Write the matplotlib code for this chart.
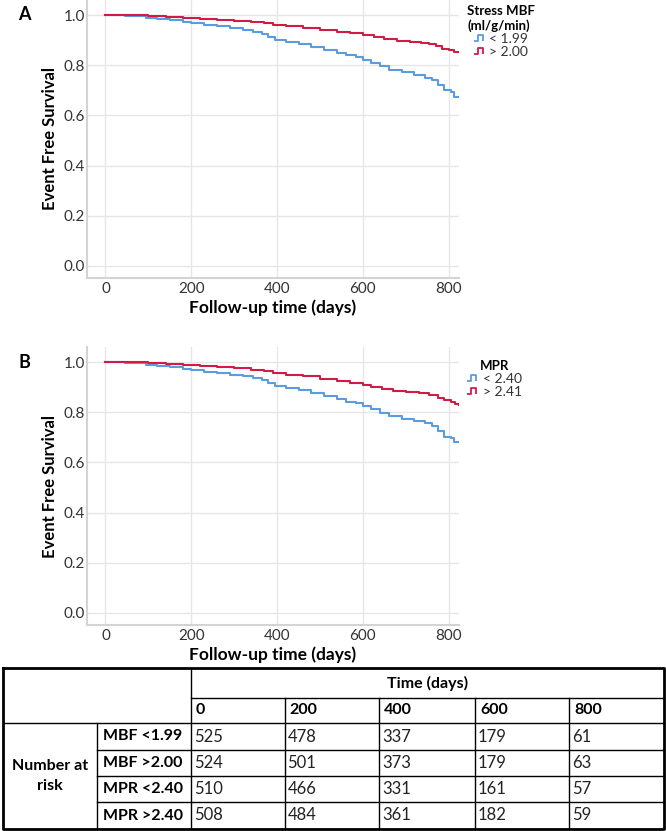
import numpy as np
import matplotlib
matplotlib.use("Agg")
import matplotlib.pyplot as plt
from matplotlib.lines import Line2D
from matplotlib.path import Path

plt.rcParams['font.family'] = ['Lato', 'DejaVu Sans']

# --- Kaplan-Meier curves (day, survival) ---
mbf_low_t = [0, 45, 70, 95, 120, 150, 180, 200, 230, 260, 290, 320, 345, 365, 380, 395, 420, 450,
             480, 510, 540, 560, 585, 600, 620, 640, 660, 690, 720, 745, 760, 775, 790, 805, 812, 824]
mbf_low_s = [1.0, 0.998, 0.995, 0.99, 0.986, 0.98, 0.972, 0.967, 0.962, 0.955, 0.948, 0.940, 0.933,
             0.925, 0.912, 0.900, 0.893, 0.885, 0.874, 0.862, 0.850, 0.840, 0.833, 0.822, 0.810, 0.795,
             0.782, 0.772, 0.760, 0.750, 0.740, 0.722, 0.700, 0.692, 0.675, 0.675]
mbf_high_t = [0, 60, 100, 140, 180, 220, 260, 300, 340, 370, 390, 420, 460, 500, 540, 570, 600, 625,
              650, 680, 710, 735, 755, 770, 785, 800, 812, 824]
mbf_high_s = [1.0, 0.999, 0.997, 0.993, 0.989, 0.985, 0.981, 0.977, 0.973, 0.968, 0.962, 0.955, 0.949,
              0.941, 0.933, 0.927, 0.921, 0.913, 0.905, 0.898, 0.893, 0.889, 0.884, 0.875, 0.866, 0.860,
              0.852, 0.852]

mpr_low_t = mbf_low_t
mpr_low_s = [1.0, 0.998, 0.995, 0.99, 0.985, 0.979, 0.972, 0.967, 0.962, 0.956, 0.950, 0.943, 0.936,
             0.928, 0.916, 0.905, 0.898, 0.889, 0.877, 0.864, 0.852, 0.842, 0.835, 0.824, 0.812, 0.797,
             0.785, 0.775, 0.765, 0.757, 0.745, 0.725, 0.703, 0.698, 0.680, 0.680]
mpr_high_t = [0, 60, 100, 140, 180, 220, 260, 300, 340, 370, 390, 420, 460, 500, 540, 570, 600, 620,
              645, 670, 700, 730, 755, 775, 790, 805, 815, 824]
mpr_high_s = [1.0, 0.999, 0.997, 0.993, 0.988, 0.984, 0.979, 0.975, 0.970, 0.965, 0.957, 0.950, 0.943,
              0.934, 0.925, 0.918, 0.910, 0.902, 0.893, 0.885, 0.880, 0.875, 0.868, 0.858, 0.848, 0.842,
              0.832, 0.830]

# --- Number at risk table ---
time_points = ['0', '200', '400', '600', '800']
row_labels = ['MBF <1.99', 'MBF >2.00', 'MPR <2.40', 'MPR >2.40']
at_risk = [[525, 478, 337, 179, 61],
           [524, 501, 373, 179, 63],
           [510, 466, 331, 161, 57],
           [508, 484, 361, 182, 59]]

BLUE = '#5b9be0'
RED = '#d01c45'
W, H = 666, 831

fig = plt.figure(figsize=(W / 100, H / 100), dpi=100)

# legend step icon
step_icon = Path([(-1.0, -0.5), (-0.4, -0.5), (-0.4, 0.5), (0.6, 0.5), (0.6, -0.5)])


def km_panel(top_px, curves, legend_title, labels, letter, leg_shift):
    ax = fig.add_axes([87 / W, 1 - (top_px + 278) / H, 372 / W, 278 / H])
    for (t, s), c in zip(curves, [BLUE, RED]):
        ax.plot(t, s, drawstyle='steps-post', color=c, lw=1.5)
    ax.set_xlim(-43, 824)
    ax.set_ylim(-0.048, 1.06)
    ax.set_xticks([0, 200, 400, 600, 800])
    ax.set_yticks([0.0, 0.2, 0.4, 0.6, 0.8, 1.0])
    ax.set_yticklabels(['0.0', '0.2', '0.4', '0.6', '0.8', '1.0'])
    ax.grid(True, color='#e6e6e6', lw=1)
    ax.set_axisbelow(True)
    for side in ['top', 'right']:
        ax.spines[side].set_visible(False)
    for side in ['left', 'bottom']:
        ax.spines[side].set_color('#d4d4d4')
        ax.spines[side].set_linewidth(1.5)
    ax.tick_params(length=0, labelsize=11, labelcolor='#333333')
    ax.tick_params(axis='x', pad=3)
    ax.tick_params(axis='y', pad=1.5)
    ax.set_ylabel('Event Free Survival', fontsize=12, fontweight='bold', labelpad=4)
    ax.set_xlabel('Follow-up time (days)', fontsize=12.5, fontweight='bold', labelpad=2)
    handles = [Line2D([], [], ls='none', marker=step_icon, markersize=8, fillstyle='none',
                      markeredgecolor=c, markeredgewidth=1.3) for c in [BLUE, RED]]
    leg = ax.legend(handles, labels, title=legend_title, loc='upper left',
                    bbox_to_anchor=(1.0, 1.0 + leg_shift / 278), frameon=False, fontsize=10,
                    title_fontproperties={'weight': 'bold', 'size': 9.5},
                    handlelength=0.8, handletextpad=0.3, labelspacing=0.05, borderaxespad=0.2)
    for txt in leg.get_texts():
        txt.set_color('#333333')
    fig.text(24 / W, 1 - (top_px + 15) / H, letter, fontsize=13, fontweight='bold',
             ha='center', va='center')
    return ax


km_panel(0, [(mbf_low_t, mbf_low_s), (mbf_high_t, mbf_high_s)],
         'Stress MBF\n(ml/g/min)', ['< 1.99', '> 2.00'], 'A', 3)
km_panel(347, [(mpr_low_t, mpr_low_s), (mpr_high_t, mpr_high_s)],
         'MPR', ['< 2.40', '> 2.41'], 'B', -5)

# --- table drawn in pixel coordinates ---
tab = fig.add_axes([0, 0, 1, 1])
tab.set_xlim(0, W)
tab.set_ylim(H, 0)
tab.axis('off')

x0, x1, xa, xb = 3, 664, 97, 191
col_x = [191, 284.5, 379, 475, 569, 664]
y_top, y_mid, y_head = 668, 698, 723
row_y = [723, 750, 776, 802, 829]

tab.plot([x0, x1, x1, x0, x0], [y_top, y_top, 829, 829, y_top], color='black', lw=2)
tab.plot([xb, xb], [y_top, 829], color='black', lw=1)
tab.plot([xa, xa], [y_head, 829], color='black', lw=1)
tab.plot([xb, x1], [y_mid, y_mid], color='black', lw=1)
tab.plot([x0, x1], [y_head, y_head], color='black', lw=1)
for y in row_y[1:-1]:
    tab.plot([xa, x1], [y, y], color='black', lw=1)
for x in col_x[1:-1]:
    tab.plot([x, x], [y_mid, 829], color='black', lw=1)

tab.text((xb + x1) / 2, (y_top + y_mid) / 2, 'Time (days)', ha='center', va='center',
         fontsize=11.5, fontweight='bold')
for i, tp in enumerate(time_points):
    tab.text(col_x[i] + 5, (y_mid + y_head) / 2, tp, ha='left', va='center',
             fontsize=11.5, fontweight='bold')
tab.text((x0 + xa) / 2, (row_y[0] + row_y[-1]) / 2, 'Number at\nrisk', ha='center', va='center',
         fontsize=11.5, fontweight='bold', linespacing=1.5)
for r, lab in enumerate(row_labels):
    yc = (row_y[r] + row_y[r + 1]) / 2
    tab.text(xa + 6, yc, lab, ha='left', va='center', fontsize=11.5, fontweight='bold')
    for c, v in enumerate(at_risk[r]):
        tab.text(col_x[c] + 3, yc, str(v), ha='left', va='center', fontsize=12, color='#222222')

fig.savefig('out.png', dpi=100)
